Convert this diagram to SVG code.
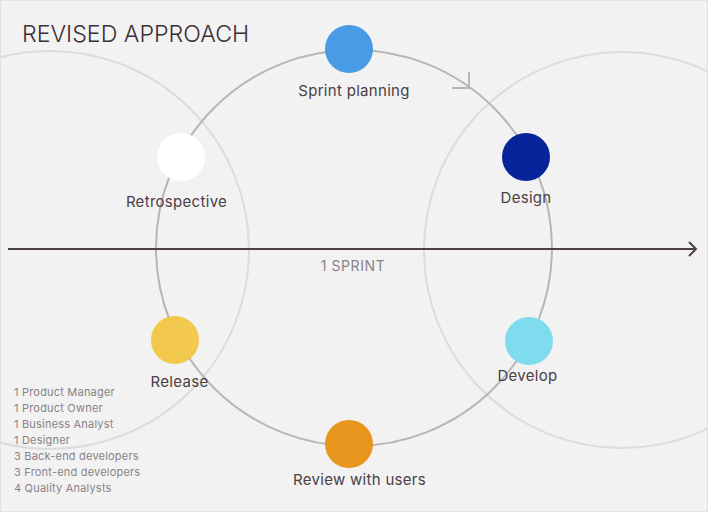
<svg xmlns="http://www.w3.org/2000/svg" width="708" height="512" viewBox="0 0 708 512">
<style>
.lbl{font-family:Inter,"Liberation Sans",sans-serif;font-size:15px;fill:#4a3f44;text-anchor:middle;letter-spacing:0.3px}
.team{font-family:Inter,"Liberation Sans",sans-serif;font-size:11px;fill:#8a8385;letter-spacing:0.2px}
.ring{fill:none;stroke:#dddbdc;stroke-width:2}
.main{fill:none;stroke:#bab4b6;stroke-width:2}
</style>
<rect x="0.5" y="0.5" width="707" height="511" fill="#f2f2f2" stroke="#e2e2e2"/>
<text x="22" y="42" font-family="Inter,'Liberation Sans',sans-serif" font-size="23.2" font-weight="300" fill="#3a3035">REVISED APPROACH</text>
<g id="connectors">
<circle class="ring" cx="50" cy="250" r="199"/>
<circle class="ring" cx="622" cy="250" r="198"/>
<circle class="main" cx="354" cy="248" r="198"/>
<polyline points="452,88 469,88 469,72" fill="none" stroke="#bab4b6" stroke-width="2"/>
<line x1="8" y1="249" x2="696" y2="249" stroke="#4d4045" stroke-width="2"/>
<polyline points="689,242 696,249 689,256" fill="none" stroke="#4d4045" stroke-width="2"/>
</g>
<text x="353" y="271" font-family="Inter,'Liberation Sans',sans-serif" font-size="14" fill="#8a8385" text-anchor="middle" letter-spacing="0.6">1 SPRINT</text>
<g id="sprint-planning"><circle cx="349" cy="49" r="24" fill="#4a9be6"/><text class="lbl" x="354" y="96">Sprint planning</text></g>
<g id="retrospective"><circle cx="181" cy="157" r="24" fill="#ffffff"/><text class="lbl" x="176.5" y="207">Retrospective</text></g>
<g id="design"><circle cx="526" cy="157" r="24" fill="#08249a"/><text class="lbl" x="526" y="203">Design</text></g>
<g id="release"><circle cx="175" cy="340" r="24" fill="#f2c94c"/><text class="lbl" x="179.5" y="387">Release</text></g>
<g id="develop"><circle cx="529" cy="341" r="24" fill="#7fdcee"/><text class="lbl" x="527.5" y="381">Develop</text></g>
<g id="review"><circle cx="349" cy="444" r="24" fill="#e8951e"/><text class="lbl" x="359.5" y="485">Review with users</text></g>
<g id="team">
<text class="team" x="14" y="396">1 Product Manager</text>
<text class="team" x="14" y="412">1 Product Owner</text>
<text class="team" x="14" y="428">1 Business Analyst</text>
<text class="team" x="14" y="444">1 Designer</text>
<text class="team" x="14" y="460">3 Back-end developers</text>
<text class="team" x="14" y="476">3 Front-end developers</text>
<text class="team" x="14" y="492">4 Quality Analysts</text>
</g>
</svg>
